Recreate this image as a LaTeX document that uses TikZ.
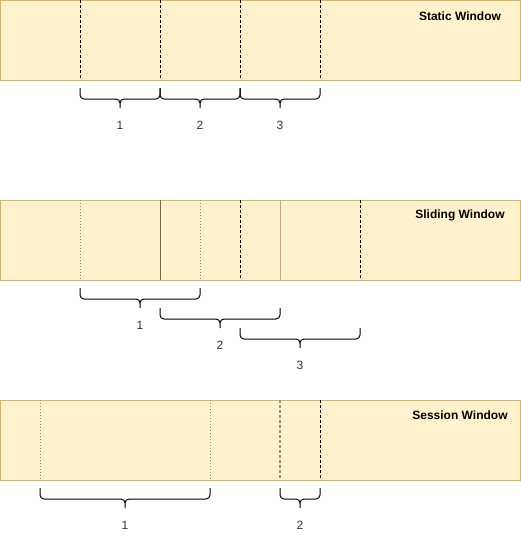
\documentclass[tikz,border=0pt]{standalone}
\usepackage{fontspec}
\setmainfont{Liberation Sans}
\definecolor{winfill}{HTML}{FFF2CC}
\definecolor{winline}{HTML}{D6B656}
\definecolor{darkcut}{HTML}{7F6B43}
\definecolor{lightcut}{HTML}{BBA983}
\definecolor{dotgray}{HTML}{9A927F}
\tikzstyle{window}=[rectangle,draw=winline,fill=winfill,minimum width=520pt,minimum height=80pt,inner sep=0pt,anchor=north west]
\tikzstyle{title}=[font=\bfseries\fontsize{12}{14}\selectfont]
\tikzstyle{num}=[font=\fontsize{12}{14}\selectfont,text=black!80]
\tikzstyle{cut}=[dash pattern=on 3pt off 2pt]
\tikzstyle{soft}=[dash pattern=on 1pt off 2pt,draw=dotgray]
\tikzstyle{curly}=[rounded corners=4pt]
% brace from x=#1 to x=#2, top at y=#3
\newcommand\curly[3]{
  \draw[curly] (#1,#3) -- (#1,#3+11) -- ({(#1+#2)/2},#3+11) -- ({(#1+#2)/2},#3+20)
               (#2,#3) -- (#2,#3+11) -- ({(#1+#2)/2},#3+11) -- ({(#1+#2)/2},#3+20);
}
\tikzset{every picture/.style={
    line width=1pt, x=1pt, y=-1pt
  }
}

\begin{document}
\begin{tikzpicture}
      \useasboundingbox (0,0) rectangle (521,541);
      % static
      \node[window] (static) at (0,0) {};
      \node[title] (statict) at (460,16) {Static Window};
      \foreach \x in {80,160,240,320}
        \draw[cut] (\x,0) -- (\x,80);
      \curly{80}{160}{88}
      \curly{160}{240}{88}
      \curly{240}{320}{88}
      \node[num] (st1) at (120,125) {1};
      \node[num] (st2) at (200,125) {2};
      \node[num] (st3) at (280,125) {3};
      % sliding
      \node[window] (sliding) at (0,200) {};
      \node[title] (slidingt) at (460,215) {Sliding Window};
      \draw[soft] (80,200) -- (80,280);
      \draw[darkcut] (160,200) -- (160,280);
      \draw[soft] (200,200) -- (200,280);
      \draw[cut] (240,200) -- (240,280);
      \draw[lightcut] (280,200) -- (280,280);
      \draw[cut] (360,200) -- (360,280);
      \curly{80}{200}{288}
      \curly{160}{280}{308}
      \curly{240}{360}{328}
      \node[num] (sl1) at (140,325) {1};
      \node[num] (sl2) at (220,345) {2};
      \node[num] (sl3) at (300,365) {3};
      % session
      \node[window] (session) at (0,400) {};
      \node[title] (sessiont) at (460,415) {Session Window};
      \draw[soft] (40,400) -- (40,480);
      \draw[soft] (210,400) -- (210,480);
      \draw[cut,draw=dotgray,line width=1.4pt] (280,400) -- (280,480);
      \draw[cut] (320,400) -- (320,480);
      \curly{40}{210}{488}
      \curly{280}{320}{488}
      \node[num] (se1) at (125,525) {1};
      \node[num] (se2) at (300,525) {2};
\end{tikzpicture}
\end{document}
